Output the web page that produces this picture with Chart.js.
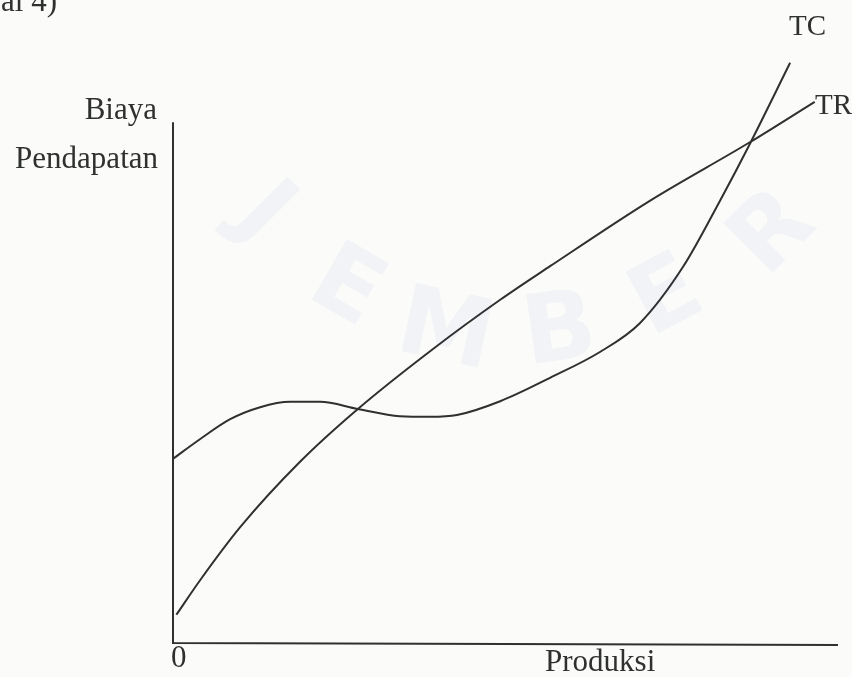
<!DOCTYPE html>
<html>
<head>
<meta charset="utf-8">
<script src="https://cdn.jsdelivr.net/npm/chart.js@4/dist/chart.umd.min.js"></script>
<style>
  html, body { margin: 0; padding: 0; background: #fbfcf9; }
  #wrap { width: 852px; height: 677px; position: relative; }
</style>
</head>
<body>
<div id="wrap"><canvas id="chart"></canvas></div>
<script>
// values (x = produksi, y = biaya / pendapatan, both 0..100)
const trX = [0.5, 4.1, 10.1, 19.1, 27.8, 39.1, 49.2, 56.7, 71.7, 86.8, 96.5];
const trY = [4.7, 10.5, 19.3, 30.2, 39.0, 49.0, 57.2, 62.8, 73.7, 83.5, 90.2];

const tcX = [0, 4.1, 8.6, 13.1, 17.6, 22.1, 27.8, 34.1, 38.7, 42.7, 49.2, 56.7, 64.2, 70.2, 76.7, 82.3, 86.8, 92.8];
const tcY = [30.7, 34.0, 37.3, 39.3, 40.2, 40.2, 39.0, 37.8, 37.7, 38.0, 40.3, 44.2, 48.5, 53.3, 62.7, 73.8, 83.3, 96.7];

const yAxisTop = 86.8;   // vertical axis stops below the curves' top

// faint scan watermark
const wmLetters = ['J', 'E', 'M', 'B', 'E', 'R'];
const wmPos = [[262, 215, 45], [345, 290, 30], [445, 335, 12], [560, 335, -8], [668, 300, -28], [775, 235, -45]];

const toPoints = (xs, ys) => xs.map((x, i) => ({ x: x, y: ys[i] }));

const ink = '#2f3030';
const serif = '"Liberation Serif", "DejaVu Serif", serif';

const watermark = {
  id: 'watermark',
  beforeDatasetsDraw(chart) {
    const ctx = chart.ctx;
    ctx.save();
    ctx.fillStyle = '#f2f3f6';
    ctx.font = 'bold 96px "DejaVu Sans", sans-serif';
    ctx.textAlign = 'center';
    ctx.textBaseline = 'middle';
    wmLetters.forEach((ch, i) => {
      const [x, y, a] = wmPos[i];
      ctx.save();
      ctx.translate(x, y);
      ctx.rotate(a * Math.PI / 180);
      ctx.fillText(ch, 0, 0);
      ctx.restore();
    });
    ctx.restore();
  }
};

const labels = {
  id: 'labels',
  afterDatasetsDraw(chart) {
    const { ctx, chartArea, scales } = chart;
    const x0 = scales.x.getPixelForValue(0);
    const y0 = scales.y.getPixelForValue(0);
    ctx.save();
    ctx.strokeStyle = ink;
    ctx.lineWidth = 2;
    // axes
    ctx.beginPath();
    ctx.moveTo(x0, scales.y.getPixelForValue(yAxisTop));
    ctx.lineTo(x0, y0);
    ctx.lineTo(chartArea.right, y0 + 2);
    ctx.stroke();

    ctx.fillStyle = ink;
    ctx.font = '31px ' + serif;
    ctx.textBaseline = 'alphabetic';
    ctx.textAlign = 'right';
    ctx.fillText('Biaya', 157, 119);
    ctx.fillText('Pendapatan', 158, 168);
    ctx.fillText('al 4)', 57, 11);
    ctx.textAlign = 'left';
    ctx.fillText('0', 171, 667);
    ctx.fillText('Produksi', 545, 671);
    ctx.font = '29px ' + serif;
    ctx.fillText('TC', 789, 35);
    ctx.fillText('TR', 815, 114);
    ctx.restore();
  }
};

new Chart(document.getElementById('chart'), {
  type: 'line',
  data: {
    datasets: [
      { label: 'TR', data: toPoints(trX, trY) },
      { label: 'TC', data: toPoints(tcX, tcY) }
    ]
  },
  options: {
    responsive: true,
    maintainAspectRatio: false,
    animation: false,
    devicePixelRatio: 1,
    layout: { padding: { left: 173, right: 14, top: 43, bottom: 34 } },
    elements: {
      point: { radius: 0 },
      line: { borderColor: ink, borderWidth: 2, cubicInterpolationMode: 'monotone', fill: false }
    },
    scales: {
      x: { type: 'linear', min: 0, max: 100, display: false },
      y: { type: 'linear', min: 0, max: 100, display: false }
    },
    plugins: {
      legend: { display: false },
      tooltip: { enabled: false }
    }
  },
  plugins: [watermark, labels]
});
</script>
</body>
</html>
